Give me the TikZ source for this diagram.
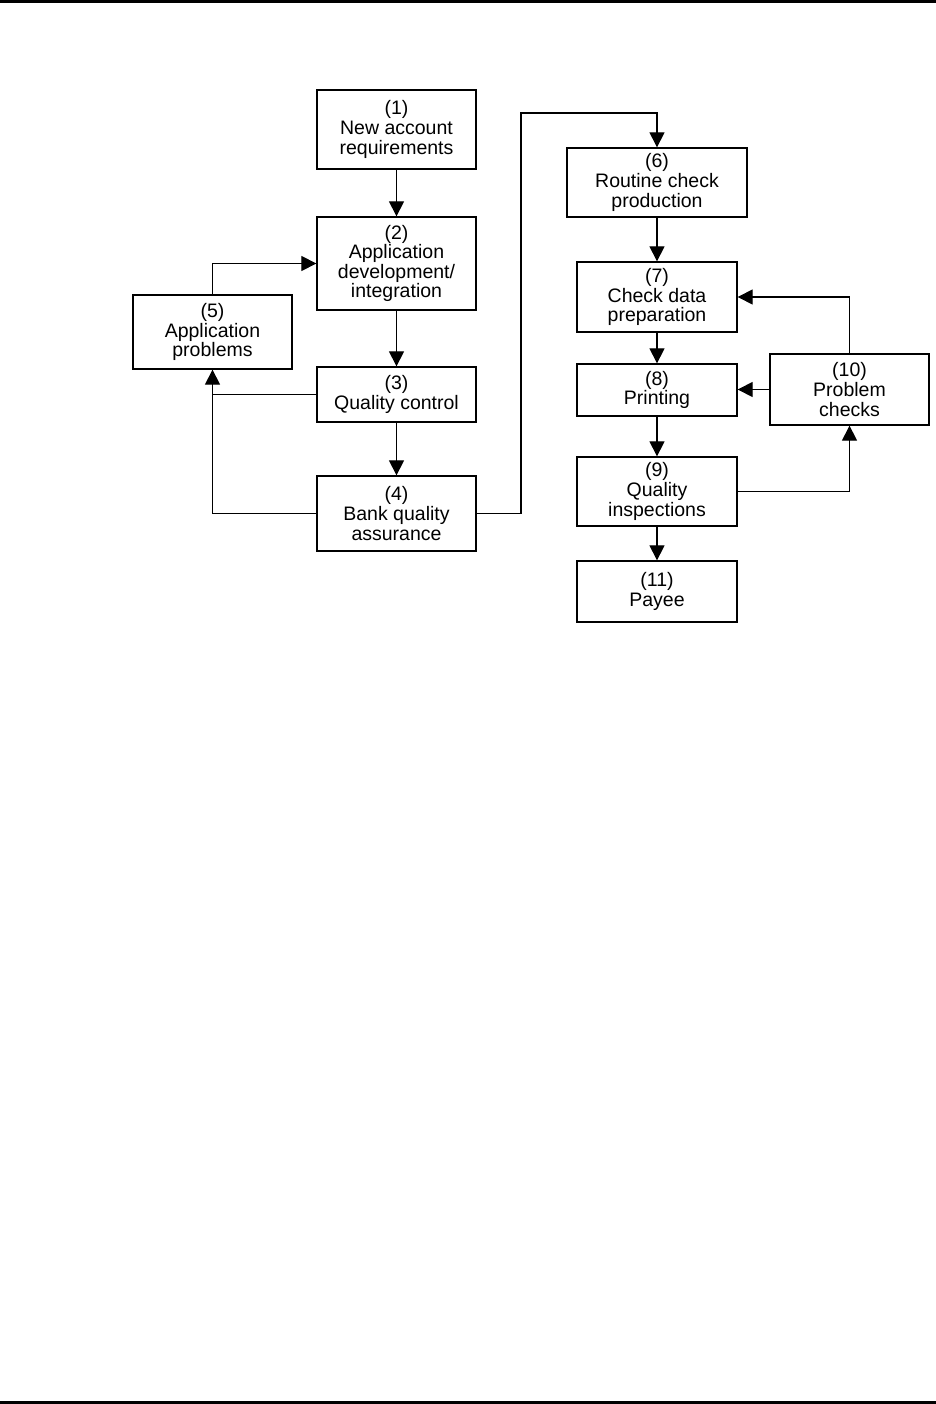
\documentclass[tikz,border=0pt]{standalone}
\usepackage{fontspec}
\setmainfont{Liberation Sans}
\usetikzlibrary{arrows.meta}
\begin{document}
\begin{tikzpicture}[x=1pt,y=-1pt,
  box/.style={draw=black,line width=1.3pt,rectangle,inner sep=0pt,align=center,
    font=\fontsize{19.5}{19.6}\selectfont},
  conn/.style={draw=black,line width=1.2pt},
  arr/.style={conn,-{Triangle[length=15pt,width=15pt]}}]
\useasboundingbox (0,0) rectangle (936,1404);
\fill (0,0) rectangle (936,2.7);
\fill (0,1400.8) rectangle (936,1404);
% left column
\node[box,minimum width=159pt,minimum height=79pt] (b1) at (396.5,129.5) {(1)\\New account\\requirements};
\node[box,minimum width=159pt,minimum height=93pt] (b2) at (396.5,263.5) {(2)\\Application\\development/\\integration};
\node[box,minimum width=159pt,minimum height=55pt] (b3) at (396.5,394.5) {(3)\\Quality control};
\node[box,minimum width=159pt,minimum height=75pt] (b4) at (396.5,513.5) {(4)\\Bank quality\\assurance};
\node[box,minimum width=159pt,minimum height=74pt] (b5) at (212.5,332) {(5)\\Application\\problems};
% right column
\node[box,minimum width=180pt,minimum height=69pt] (b6) at (657,182.5) {(6)\\Routine check\\production};
\node[box,minimum width=160pt,minimum height=70pt] (b7) at (657,297) {(7)\\Check data\\preparation};
\node[box,minimum width=160pt,minimum height=52pt] (b8) at (657,390) {(8)\\Printing};
\node[box,minimum width=160pt,minimum height=69pt] (b9) at (657,491.5) {(9)\\Quality\\inspections};
\node[box,minimum width=160pt,minimum height=61pt] (b11) at (657,591.5) {(11)\\Payee};
\node[box,minimum width=159pt,minimum height=71pt] (b10) at (849.5,389.5) {(10)\\Problem\\checks};
\coordinate (c1) at (521,113);
% connectors
\draw[arr] (b1) -- (b2);
\draw[arr] (b2) -- (b3);
\draw[arr] (b3) -- (b4);
\draw[conn] (b4.west) -| (b5.south);
\draw[arr] (b3.west) -| (b5.south);
\draw[arr] (b5.north) |- (b2.west);
\draw[arr] (b4.east) -| (c1) -| (b6.north);
\draw[arr] (b6) -- (b7);
\draw[arr] (b7) -- (b8);
\draw[arr] (b8) -- (b9);
\draw[arr] (b9) -- (b11);
\draw[arr] (b10.north) |- (b7.east);
\draw[arr] (b10.west) -- (b10.west -| b8.east);
\draw[arr] (b9.east) -| (b10.south);
\end{tikzpicture}
\end{document}
